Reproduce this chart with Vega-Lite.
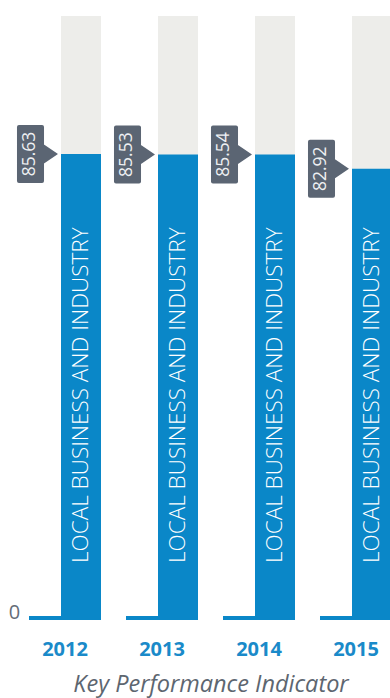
{
  "$schema": "https://vega.github.io/schema/vega-lite/v6.json",
  "width": 390,
  "height": 604,
  "autosize": {"type": "none"},
  "padding": {"top": 16, "left": 0, "right": 0, "bottom": 78},
  "background": "white",
  "config": {"view": {"stroke": null}},
  "data": {
    "values": [
      {"year": "2012", "value": 85.63, "category": "LOCAL BUSINESS AND INDUSTRY"},
      {"year": "2013", "value": 85.53, "category": "LOCAL BUSINESS AND INDUSTRY"},
      {"year": "2014", "value": 85.54, "category": "LOCAL BUSINESS AND INDUSTRY"},
      {"year": "2015", "value": 82.92, "category": "LOCAL BUSINESS AND INDUSTRY"}
    ]
  },
  "encoding": {
    "x": {
      "field": "year",
      "type": "nominal",
      "scale": {"range": [16.5, 404.5], "paddingInner": 0, "paddingOuter": 0},
      "axis": {
        "title": "Key Performance Indicator",
        "domain": false,
        "ticks": false,
        "labelAngle": 0,
        "labelFont": "Open Sans",
        "labelFontSize": 20,
        "labelFontWeight": "bold",
        "labelColor": "#1a8ac9",
        "labelPadding": 19,
        "titleFont": "Open Sans",
        "titleFontSize": 23.5,
        "titleFontStyle": "italic",
        "titleFontWeight": "normal",
        "titleColor": "#5d6670",
        "titlePadding": 13
      }
    }
  },
  "layer": [
    {
      "mark": {"type": "bar", "color": "#ededea", "width": 40, "xOffset": 16},
      "encoding": {
        "y": {
          "datum": 111,
          "type": "quantitative",
          "scale": {"domain": [0, 111], "nice": false},
          "title": null,
          "axis": null
        }
      }
    },
    {
      "mark": {"type": "bar", "color": "#0a87c8", "width": 40, "xOffset": 16},
      "encoding": {
        "y": {"field": "value", "type": "quantitative", "title": null, "axis": null}
      }
    },
    {
      "mark": {"type": "tick", "color": "#0a87c8", "size": 32, "thickness": 4, "xOffset": -20, "yOffset": -2, "opacity": 1},
      "encoding": {
        "y": {"datum": 0, "type": "quantitative", "title": null, "axis": null}
      }
    },
    {
      "transform": [{"filter": "datum.year == '2012'"}],
      "mark": {
        "type": "text",
        "text": "0",
        "align": "center",
        "baseline": "alphabetic",
        "font": "Open Sans",
        "fontSize": 20,
        "color": "#646c78",
        "xOffset": -50.5,
        "yOffset": -1
      },
      "encoding": {
        "y": {"datum": 0, "type": "quantitative", "title": null, "axis": null}
      }
    },
    {
      "mark": {
        "type": "point",
        "filled": true,
        "opacity": 1,
        "color": "#5b6573",
        "strokeWidth": 0,
        "size": 3364,
        "xOffset": -34.5,
        "shape": "M -0.397 -1 L 0.397 -1 Q 0.466 -1 0.466 -0.931 L 0.466 0.931 Q 0.466 1 0.397 1 L -0.397 1 Q -0.466 1 -0.466 0.931 L -0.466 -0.931 Q -0.466 -1 -0.397 -1 Z M 0.44 -0.345 L 0.948 0 L 0.44 0.345 Z"
      },
      "encoding": {
        "y": {"field": "value", "type": "quantitative", "title": null, "axis": null}
      }
    },
    {
      "mark": {
        "type": "text",
        "angle": 270,
        "align": "center",
        "baseline": "middle",
        "font": "Open Sans",
        "fontSize": 17.5,
        "color": "#eef0f2",
        "xOffset": -35
      },
      "encoding": {
        "y": {"field": "value", "type": "quantitative", "title": null, "axis": null},
        "text": {"field": "value", "type": "quantitative", "format": ".2f"}
      }
    },
    {
      "mark": {
        "type": "text",
        "angle": 270,
        "align": "left",
        "baseline": "middle",
        "font": "Open Sans",
        "fontWeight": 300,
        "fontSize": 22.5,
        "color": "white",
        "xOffset": 16,
        "yOffset": -57
      },
      "encoding": {
        "y": {"datum": 0, "type": "quantitative", "title": null, "axis": null},
        "text": {"field": "category", "type": "nominal"}
      }
    }
  ]
}
